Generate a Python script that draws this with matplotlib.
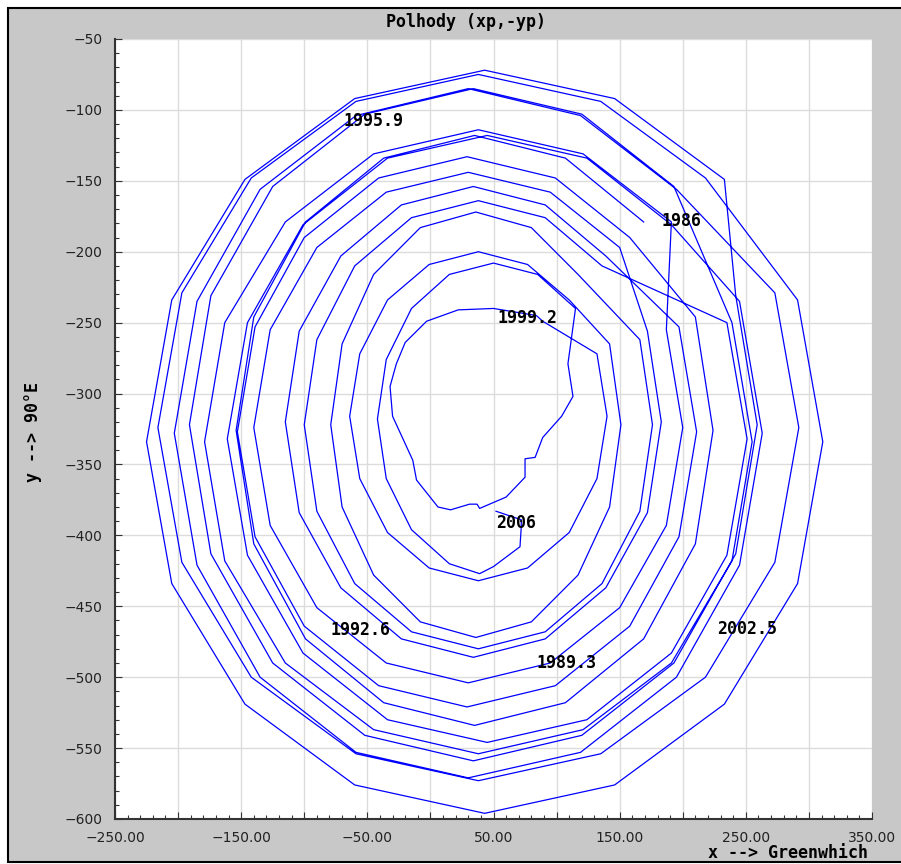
import numpy as np
import matplotlib.pyplot as plt
from matplotlib.patches import Rectangle
from matplotlib.ticker import MultipleLocator, FuncFormatter

# polhody loops (xp, -yp), in drawing order
loop01_x = [169, 107, 35, -37, -99, -140, -154, -140, -99, -37, 35, 107, 169, 210, 224, 210]
loop01_y = [-179, -134, -118, -134, -179, -246, -326, -406, -473, -518, -534, -518, -473, -406, -326, -246]
loop02_x = [158, 99, 29, -41, -100, -139, -153, -139, -100, -41, 29, 99, 158, 197, 211, 197]
loop02_y = [-190, -148, -133, -148, -190, -253, -327, -401, -464, -506, -521, -506, -464, -401, -327, -253]
loop03_x = [139, 91, 34, -23, -71, -104, -115, -104, -71, -23, 34, 91, 139, 172, 183, 172]
loop03_y = [-203, -167, -154, -167, -203, -256, -320, -384, -437, -473, -486, -473, -437, -384, -320, -256]
loop04_x = [150, 95, 30, -35, -90, -127, -140, -127, -90, -35, 30, 95, 150, 187, 200, 187]
loop04_y = [-197, -158, -144, -158, -197, -255, -324, -393, -451, -490, -504, -490, -451, -393, -324, -255]
loop05_x = [191, 121, 38, -45, -115, -163, -179, -163, -115, -45, 38, 121, 191, 239, 255, 239]
loop05_y = [-179, -131, -114, -131, -179, -250, -334, -418, -490, -537, -554, -537, -490, -418, -334, -250]
loop06_x = [193, 120, 34, -52, -125, -174, -191, -174, -125, -52, 34, 120, 193, 242, 259, 242]
loop06_y = [-154, -103, -85, -103, -154, -231, -322, -413, -490, -541, -559, -541, -490, -413, -322, -231]
loop07_x = [233, 146, 43, -60, -147, -205, -225, -205, -147, -60, 43, 146, 233, 291, 311, 291]
loop07_y = [-149, -92, -72, -92, -149, -234, -334, -434, -519, -576, -596, -576, -519, -434, -334, -234]
loop08_x = [218, 135, 38, -59, -142, -197, -216, -197, -142, -59, 38, 135, 218, 273, 292, 273]
loop08_y = [-148, -94, -75, -94, -148, -229, -324, -419, -500, -554, -573, -554, -500, -419, -324, -229]
loop09_x = [195, 119, 30, -59, -135, -185, -203, -185, -135, -59, 30, 119, 195, 245, 263, 245]
loop09_y = [-156, -104, -85, -104, -156, -235, -328, -421, -500, -553, -571, -553, -500, -421, -328, -235]
loop10_x = [191, 124, 45, -34, -101, -145, -161, -145, -101, -34, 45, 124, 191, 235, 251, 235]
loop10_y = [-181, -134, -118, -134, -181, -250, -332, -414, -483, -530, -546, -530, -483, -414, -332, -250]
loop11_x = [136, 91, 38, -15, -60, -90, -100, -90, -60, -15, 38, 91, 136, 166, 176, 166]
loop11_y = [-210, -176, -164, -176, -210, -262, -322, -383, -434, -468, -480, -468, -434, -383, -322, -262]
loop12_x = [117, 80, 36, -8, -45, -70, -79, -70, -45, -8, 36, 80, 117, 142, 151, 142]
loop12_y = [-216, -183, -172, -183, -216, -265, -322, -380, -428, -461, -472, -461, -428, -380, -322, -265]
loop13_x = [110, 77, 38, -1, -34, -56, -64, -56, -34, -1, 38, 77, 110, 132, 140, 132]
loop13_y = [-234, -209, -200, -209, -234, -272, -316, -360, -398, -423, -432, -423, -398, -360, -316, -272]
loop14_x = [89, 84, 50, 22, -3, -20, -27, -32, -30, -14, -11, 6, 16, 31, 37, 39, 60, 75, 75, 83, 89, 104, 113, 109]
loop14_y = [-249, -245, -240, -241, -249, -264, -279, -295, -316, -347, -361, -380, -382, -378, -378, -381, -373, -359, -346, -345, -331, -316, -302, -279]
loop15_x = [115, 85, 50, 15, -15, -35, -42, -35, -15, 15, 39, 50, 71, 72, 72, 52]
loop15_y = [-240, -216, -208, -216, -240, -276, -318, -360, -396, -420, -427, -422, -408, -394, -389, -383]

pole_x = np.concatenate([loop01_x, loop02_x, loop03_x, loop04_x, loop05_x, loop06_x, loop07_x, loop08_x,
                         loop09_x, loop10_x, loop11_x, loop12_x, loop13_x, loop14_x, loop15_x])
pole_y = np.concatenate([loop01_y, loop02_y, loop03_y, loop04_y, loop05_y, loop06_y, loop07_y, loop08_y,
                         loop09_y, loop10_y, loop11_y, loop12_y, loop13_y, loop14_y, loop15_y])

year_text = ["1986", "1989.3", "1992.6", "1995.9", "1999.2", "2002.5", "2006"]
year_x = [183, 84, -79, -69, 53, 227, 52]
year_y = [-178, -490, -467, -108, -247, -466, -391]

W, H = 901, 864
fig = plt.figure(figsize=(W / 100, H / 100), dpi=100)
fig.patch.set_facecolor('white')
frame = Rectangle((8 / W, 2 / H), 1.0, 854 / H, transform=fig.transFigure,
                  facecolor='#c8c8c8', edgecolor='black', lw=1.5, zorder=-5)
fig.patches.append(frame)

ax = fig.add_axes([115 / W, 45 / H, 757 / W, 780 / H])
ax.set_facecolor('white')
ax.plot(pole_x, pole_y, color='#0000ff', lw=0.9)

mono = 'DejaVu Sans Mono'
for t, x, y in zip(year_text, year_x, year_y):
    ax.text(x, y, t, ha='left', va='center', family=mono, weight='bold', fontsize=12, color='black')

ax.set_xlim(-250, 350)
ax.set_ylim(-600, -50)
ax.xaxis.set_major_locator(MultipleLocator(50))
ax.xaxis.set_minor_locator(MultipleLocator(10))
ax.yaxis.set_major_locator(MultipleLocator(50))
ax.yaxis.set_minor_locator(MultipleLocator(10))
ax.xaxis.set_major_formatter(FuncFormatter(
    lambda v, p: ('%.2f' % v).replace('-', '\u2212') if round(v + 250) % 100 == 0 else ''))
ax.yaxis.set_major_formatter(FuncFormatter(lambda v, p: ('%d' % v).replace('-', '\u2212')))

ax.grid(True, which='major', color='#dcdcdc', lw=1)
ax.set_axisbelow(True)
for s in ['top', 'right']:
    ax.spines[s].set_visible(False)
for s in ['left', 'bottom']:
    ax.spines[s].set_color('#333333')
    ax.spines[s].set_linewidth(1.5)
ax.tick_params(which='major', direction='in', length=5, width=0.8, color='#333333',
               labelcolor='#222222', labelsize=10, pad=9)
ax.tick_params(which='minor', direction='in', length=3, width=0.8, color='#333333')

fig.text(466 / W, 1 - 22 / H, 'Polhody (xp,-yp)', ha='center', va='center',
         family=mono, weight='bold', fontsize=12)
fig.text(33 / W, 1 - 432 / H, 'y --> 90\u00b0E', rotation=90, ha='center', va='center',
         family=mono, weight='bold', fontsize=12)
fig.text(868 / W, 11 / H, 'x --> Greenwhich', ha='right', va='center',
         family=mono, weight='bold', fontsize=12)

fig.savefig('out.png', dpi=100, facecolor='white')
